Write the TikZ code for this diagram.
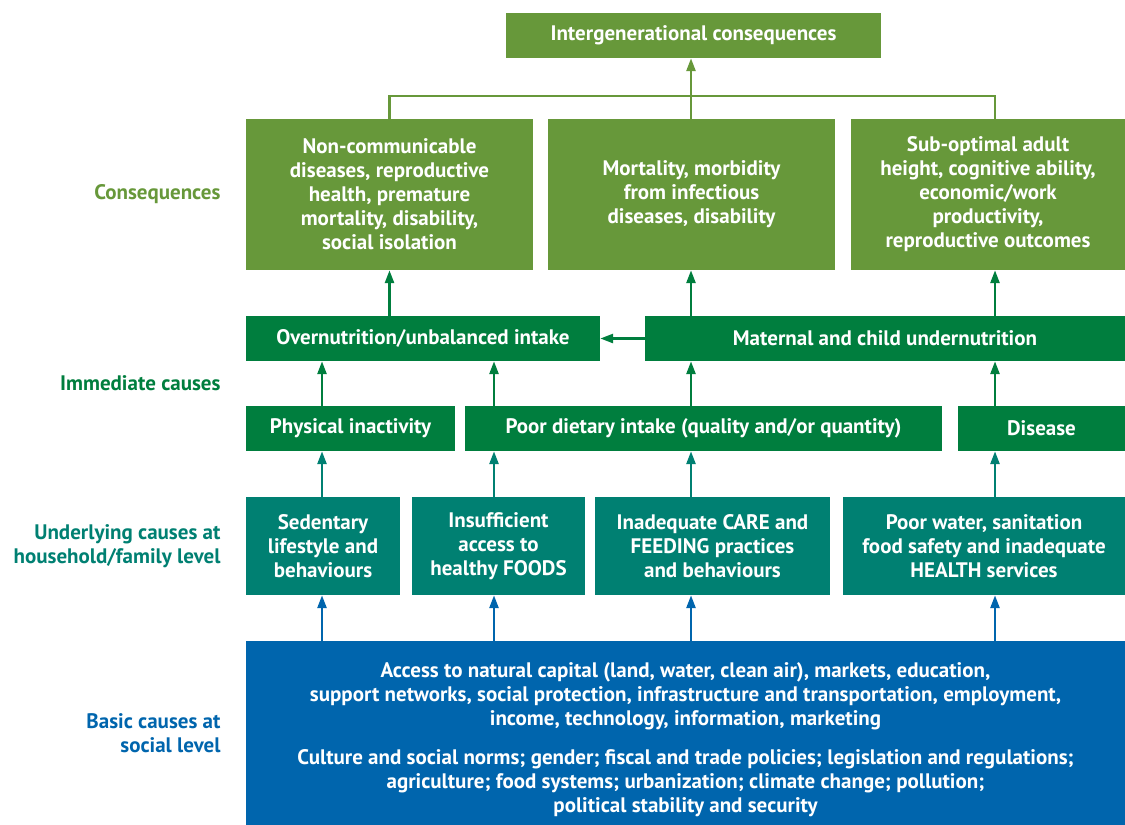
\documentclass[tikz,border=0pt]{standalone}
\usepackage{fontspec}
\setmainfont{PT Sans}
\usepackage{tikz}
\usetikzlibrary{positioning}
\usetikzlibrary{arrows.meta}
\definecolor{olivegreen}{HTML}{67983A}
\definecolor{darkgreen}{HTML}{007E3E}
\definecolor{tealgreen}{HTML}{008072}
\definecolor{basicblue}{HTML}{0065AD}
\tikzstyle{box} = [rectangle, inner sep=0pt, align=center, text=white, font=\bfseries\fontsize{21}{24}\selectfont]
\tikzstyle{level} = [anchor=east, align=right, font=\bfseries\fontsize{21}{24}\selectfont]
\tikzstyle{arrow} = [line width=2.6pt, -{Triangle[width=9pt,length=13pt]}]

\begin{document}
\begin{tikzpicture}[x=1pt, y=-1pt]
	\useasboundingbox (0,0) rectangle (1125,825);
	
	%Columns
	\coordinate (c1) at (322,0);
	\coordinate (c2) at (494,0);
	\coordinate (c3) at (691,0);
	\coordinate (c4) at (995,0);
	
	%Levels
	\node [level, text=olivegreen] (lvlCons) at (224,194) {Consequences};
	\node [level, text=darkgreen] (lvlImm) at (224,383) {Immediate causes};
	\node [level, text=tealgreen] (lvlUnder) at (224,546) {Underlying causes at\\household/family level};
	\node [level, text=basicblue] (lvlBasic) at (224,733) {Basic causes at\\social level};
	
	%Nodes
	\node [box, fill=olivegreen, minimum width=375pt, minimum height=45pt] (intergen) at (693.5,35.5) {Intergenerational consequences};
	
	\node [box, fill=olivegreen, minimum width=287pt, minimum height=151pt] (nonComm) at (389.5,194.5) {Non-communicable\\diseases, reproductive\\health, premature\\mortality, disability,\\social isolation};
	\node [box, fill=olivegreen, minimum width=287pt, minimum height=151pt] (mortality) at (691.5,194.5) {Mortality, morbidity\\from infectious\\diseases, disability};
	\node [box, fill=olivegreen, minimum width=274pt, minimum height=151pt] (subOptimal) at (988,194.5) {Sub-optimal adult\\height, cognitive ability,\\economic/work\\productivity,\\reproductive outcomes};
	
	\node [box, fill=darkgreen, minimum width=354pt, minimum height=45pt] (overnutrition) at (423,338.5) {Overnutrition/unbalanced intake};
	\node [box, fill=darkgreen, minimum width=480pt, minimum height=45pt] (undernutrition) at (885,338.5) {Maternal and child undernutrition};
	
	\node [box, fill=darkgreen, minimum width=209pt, minimum height=45pt] (inactivity) at (350.5,428.5) {Physical inactivity};
	\node [box, fill=darkgreen, minimum width=477pt, minimum height=45pt] (dietary) at (703.5,428.5) {Poor dietary intake (quality and/or quantity)};
	\node [box, fill=darkgreen, minimum width=167pt, minimum height=45pt] (disease) at (1041.5,428.5) {Disease};
	
	\node [box, fill=tealgreen, minimum width=154pt, minimum height=98pt] (sedentary) at (323,546) {Sedentary\\lifestyle and\\behaviours};
	\node [box, fill=tealgreen, minimum width=173pt, minimum height=98pt] (foods) at (498.5,546) {Insufficient\\access to\\healthy FOODS};
	\node [box, fill=tealgreen, minimum width=235pt, minimum height=98pt] (care) at (712.5,546) {Inadequate CARE and\\FEEDING practices\\and behaviours};
	\node [box, fill=tealgreen, minimum width=282pt, minimum height=98pt] (water) at (984,546) {Poor water, sanitation\\food safety and inadequate\\HEALTH services};
	
	\node [box, fill=basicblue, minimum width=879pt, minimum height=184pt] (basic) at (685.5,733) {\rule{0pt}{29pt}Access to natural capital (land, water, clean air), markets, education,\\support networks, social protection, infrastructure and transportation, employment,\\income, technology, information, marketing\\[15pt]Culture and social norms; gender; fiscal and trade policies; legislation and regulations;\\agriculture; food systems; urbanization; climate change; pollution;\\political stability and security};
	
	%Lines
	\draw [line width=2.2pt, olivegreen] (nonComm.north) -- ++(0,-23) -| (subOptimal.north -| c4);
	\draw [arrow, olivegreen] (mortality.north -| c3) -- (intergen.south -| c3);
	
	\draw [arrow, darkgreen] (overnutrition.north -| nonComm.north) -- (nonComm.south);
	\draw [arrow, darkgreen] (undernutrition.north -| c3) -- (mortality.south -| c3);
	\draw [arrow, darkgreen] (undernutrition.north -| c4) -- (subOptimal.south -| c4);
	\draw [arrow, darkgreen] (undernutrition.west) -- (overnutrition.east);
	
	\draw [arrow, darkgreen] (inactivity.north -| c1) -- (overnutrition.south -| c1);
	\draw [arrow, darkgreen] (dietary.north -| c2) -- (overnutrition.south -| c2);
	\draw [arrow, darkgreen] (dietary.north -| c3) -- (undernutrition.south -| c3);
	\draw [arrow, darkgreen] (disease.north -| c4) -- (undernutrition.south -| c4);
	
	\draw [arrow, tealgreen] (sedentary.north -| c1) -- (inactivity.south -| c1);
	\draw [arrow, tealgreen] (foods.north -| c2) -- (dietary.south -| c2);
	\draw [arrow, tealgreen] (care.north -| c3) -- (dietary.south -| c3);
	\draw [arrow, tealgreen] (water.north -| c4) -- (disease.south -| c4);
	
	\draw [arrow, basicblue] (basic.north -| c1) -- (sedentary.south -| c1);
	\draw [arrow, basicblue] (basic.north -| c2) -- (foods.south -| c2);
	\draw [arrow, basicblue] (basic.north -| c3) -- (care.south -| c3);
	\draw [arrow, basicblue] (basic.north -| c4) -- (water.south -| c4);
\end{tikzpicture}
\end{document}
